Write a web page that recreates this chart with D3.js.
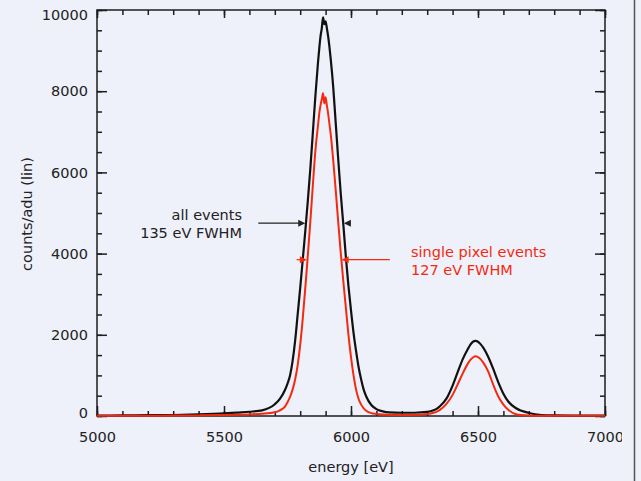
<!DOCTYPE html>
<html>
<head>
<meta charset="utf-8">
<script src="https://cdn.jsdelivr.net/npm/d3@7"></script>
<style>
  html, body { margin: 0; padding: 0; background: #eef0fa; }
  svg { display: block; font-family: "DejaVu Sans", Verdana, sans-serif; }
</style>
</head>
<body>
<svg id="spectrum" width="641" height="481"></svg>
<script>
// energy bins [eV]
var energy = [5000, 5100, 5200, 5300, 5400, 5500, 5550, 5600, 5650, 5700, 5720, 5740, 5750, 5760, 5770,
  5780, 5790, 5800, 5810, 5820, 5830, 5840, 5850, 5860, 5870, 5875, 5880, 5885, 5890, 5895, 5900,
  5905, 5910, 5915, 5920, 5930, 5940, 5950, 5960, 5970, 5980, 5990, 6000, 6010, 6020, 6030, 6040,
  6050, 6060, 6080, 6100, 6125, 6150, 6200, 6250, 6300, 6325, 6340, 6350, 6375, 6400, 6420, 6440,
  6460, 6470, 6480, 6490, 6500, 6510, 6520, 6540, 6560, 6580, 6600, 6620, 6650, 6700, 6750, 6800,
  6900, 7000];

// all events (black)
var allEvents = [10, 15, 20, 25, 40, 65, 85, 105, 140, 290, 420, 640, 800, 1000, 1350,
  1850, 2500, 3150, 3850, 4550, 5300, 6100, 7000, 7900, 8700, 9050, 9350, 9550, 9820, 9650, 9720,
  9550, 9350, 9100, 8800, 8100, 7200, 6300, 5450, 4700, 3900, 3200, 2600, 2050, 1600, 1200, 900,
  650, 480, 270, 170, 115, 90, 80, 80, 100, 140, 190, 240, 420, 750, 1080, 1400,
  1650, 1760, 1830, 1850, 1830, 1770, 1690, 1460, 1160, 830, 550, 350, 190, 75, 25, 15,
  10, 10];

// single pixel events (red)
var singleEvents = [5, 5, 8, 10, 15, 25, 30, 40, 55, 90, 140, 230, 340, 470, 650,
  900, 1250, 1750, 2400, 3150, 3950, 4800, 5700, 6550, 7150, 7450, 7650, 7800, 7950, 7700, 7850,
  7650, 7450, 7200, 6950, 6300, 5550, 4750, 4000, 3300, 2650, 2000, 1450, 1000, 650, 420, 280,
  190, 130, 70, 50, 35, 30, 25, 30, 50, 80, 115, 150, 290, 520, 780, 1050,
  1290, 1380, 1440, 1470, 1450, 1400, 1320, 1100, 770, 480, 280, 150, 45, 15, 8, 5,
  5, 5];

var xMajor = [5000, 5500, 6000, 6500, 7000];
var yMajor = [0, 2000, 4000, 6000, 8000, 10000];

var svg = d3.select("svg#spectrum");
var plotLeft = 97, plotRight = 605, plotTop = 10, plotBottom = 416;
var ink = "#1e1e1e";
var red = "#f42a10";

var x = d3.scaleLinear().domain([5000, 7000]).range([plotLeft, plotRight]);
var y = d3.scaleLinear().domain([0, 10000]).range([plotBottom, plotTop]);

// outer right border
svg.append("line")
  .attr("x1", 634.5).attr("x2", 634.5)
  .attr("y1", 0).attr("y2", 481)
  .style("stroke", "#555")
  .style("stroke-width", 1.5);

// ticks, all pointing inward
function styleAxis(g) {
  g.select(".domain").remove();
  g.selectAll(".tick line").style("stroke", ink).style("stroke-width", 1.5);
  g.selectAll(".tick text")
    .style("font-size", "14.5px")
    .style("fill", "#222")
    .style("font-family", "DejaVu Sans, Verdana, sans-serif");
}

var xMinor = d3.range(5000, 7001, 100);
var yMinor = d3.range(0, 10001, 500);

svg.append("g").attr("transform", "translate(0," + plotBottom + ")")
  .call(d3.axisBottom(x).tickValues(xMinor).tickSize(-5).tickFormat(""))
  .call(styleAxis);
svg.append("g").attr("transform", "translate(0," + plotTop + ")")
  .call(d3.axisTop(x).tickValues(xMinor).tickSize(-5).tickFormat(""))
  .call(styleAxis);
svg.append("g").attr("transform", "translate(" + plotLeft + ",0)")
  .call(d3.axisLeft(y).tickValues(yMinor).tickSize(-5).tickFormat(""))
  .call(styleAxis);
svg.append("g").attr("transform", "translate(" + plotRight + ",0)")
  .call(d3.axisRight(y).tickValues(yMinor).tickSize(-5).tickFormat(""))
  .call(styleAxis);

// the last x label is cut a little short in the original
svg.append("defs").append("clipPath").attr("id", "labelClip")
  .append("rect").attr("x", 0).attr("y", -20).attr("width", 622).attr("height", 100);

svg.append("g").attr("transform", "translate(0," + plotBottom + ")")
  .attr("clip-path", "url(#labelClip)")
  .call(d3.axisBottom(x).tickValues(xMajor).tickSize(-10).tickPadding(16).tickFormat(d3.format("d")))
  .call(styleAxis);
svg.append("g").attr("transform", "translate(0," + plotTop + ")")
  .call(d3.axisTop(x).tickValues(xMajor).tickSize(-8).tickFormat(""))
  .call(styleAxis);
var yAxis = svg.append("g").attr("transform", "translate(" + plotLeft + ",0)")
  .call(d3.axisLeft(y).tickValues(yMajor).tickSize(-10).tickPadding(9).tickFormat(d3.format("d")))
  .call(styleAxis);
svg.append("g").attr("transform", "translate(" + plotRight + ",0)")
  .call(d3.axisRight(y).tickValues(yMajor).tickSize(-10).tickFormat(""))
  .call(styleAxis);

// end labels sit a little inside the frame
yAxis.selectAll(".tick text")
  .attr("dy", function(d) { return d === 0 ? "0.07em" : d === 10000 ? "0.65em" : "0.32em"; });

// frame
svg.append("rect")
  .attr("x", plotLeft).attr("y", plotTop)
  .attr("width", plotRight - plotLeft).attr("height", plotBottom - plotTop)
  .style("fill", "none")
  .style("stroke", ink)
  .style("stroke-width", 1.5);

// spectra
var line = d3.line()
  .x(function(d) { return x(d[0]); })
  .y(function(d) { return y(d[1]); })
  .curve(d3.curveMonotoneX);

svg.append("path")
  .datum(d3.zip(energy, allEvents))
  .attr("d", line)
  .style("fill", "none")
  .style("stroke", "#111")
  .style("stroke-width", 2.2);

svg.append("path")
  .datum(d3.zip(energy, singleEvents))
  .attr("d", line)
  .style("fill", "none")
  .style("stroke", red)
  .style("stroke-width", 2);

// FWHM annotations
function arrow(x1, x2, yv, color) {
  var dir = x2 > x1 ? 1 : -1;
  var tip = x(x2), py = y(yv);
  svg.append("line")
    .attr("x1", x(x1)).attr("x2", tip - dir * 5)
    .attr("y1", py).attr("y2", py)
    .style("stroke", color).style("stroke-width", 1.2);
  svg.append("path")
    .attr("d", "M" + tip + "," + py + "L" + (tip - dir * 7) + "," + (py - 3.5) + "L" + (tip - dir * 7) + "," + (py + 3.5) + "Z")
    .style("fill", color);
}

arrow(5635, 5820, 4750, "#222");
arrow(5998, 5972, 4750, "#222");
arrow(5786, 5826, 3850, red);
arrow(6153, 5963, 3850, red);

var note = svg.append("g").style("font-size", "14.5px");
note.append("text").attr("x", 242).attr("y", 220).attr("text-anchor", "end")
  .style("fill", "#222").text("all events");
note.append("text").attr("x", 242).attr("y", 238).attr("text-anchor", "end")
  .style("fill", "#222").text("135 eV FWHM");
note.append("text").attr("x", 411).attr("y", 257)
  .style("fill", red).text("single pixel events");
note.append("text").attr("x", 411).attr("y", 275)
  .style("fill", red).text("127 eV FWHM");

// axis titles
svg.append("text")
  .attr("x", (plotLeft + plotRight) / 2).attr("y", 472)
  .attr("text-anchor", "middle")
  .style("font-size", "14.5px").style("fill", "#222")
  .text("energy [eV]");
svg.append("text")
  .attr("transform", "translate(32," + 214 + ") rotate(-90)")
  .attr("text-anchor", "middle")
  .style("font-size", "14.5px").style("fill", "#222")
  .text("counts/adu (lin)");
</script>
</body>
</html>
